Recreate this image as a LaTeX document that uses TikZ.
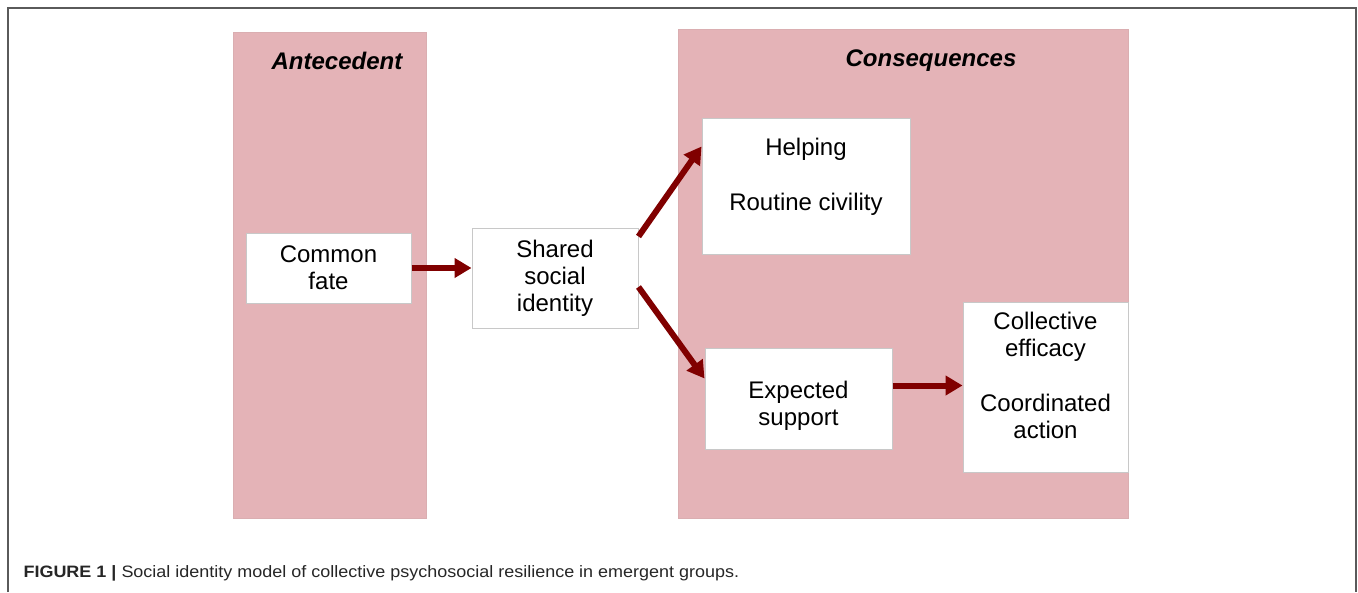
\documentclass[tikz,border=0pt]{standalone}
\usepackage{fontspec}
\setmainfont{Liberation Sans}
\usepackage{tikz}
\usetikzlibrary{arrows.meta,positioning}
\definecolor{pinkbg}{RGB}{228,179,183}
\definecolor{darkred}{RGB}{128,0,0}
\definecolor{boxgray}{RGB}{200,200,200}
\definecolor{framegray}{RGB}{90,90,90}

\begin{document}
\begin{tikzpicture}[x=1pt,y=-1pt,
    panel/.style={fill=pinkbg, draw=pinkbg!90!gray, line width=0.8pt, inner sep=0pt},
    box/.style={draw=boxgray, fill=white, line width=1pt, inner sep=0pt, align=center,
        font=\fontsize{24}{27}\selectfont},
    head/.style={font=\fontsize{24}{27}\selectfont\bfseries\itshape},
    flow/.style={darkred, line width=6pt, -{Triangle[length=17pt,width=19pt]}}]
\useasboundingbox (0,0) rectangle (1358,592);
\draw[framegray, line width=1.5pt] (8,592) -- (8,8) -- (1356,8) -- (1356,592);
\node[panel, minimum width=193, minimum height=486] (ante) at (329.5,275) {};
\node[panel, minimum width=450, minimum height=489] (cons) at (903,273.5) {};
\node[head] (antelabel) at (337,61) {Antecedent};
\node[head] (conslabel) at (931,61) {Consequences};
\node[box, minimum width=165, minimum height=70] (fate) at (328.5,268) {Common\\fate};
\node[box, minimum width=166, minimum height=100] (shared) at (555,278) {Shared\\social\\identity};
\node[box, minimum width=208, minimum height=136] (help) at (806,186)
    {Helping\\[28pt]Routine civility\\[-3pt]\mbox{}};
\node[box, minimum width=187, minimum height=101] (expect) at (798.5,398.5)
    {\mbox{}\\[4pt]Expected\\support};
\node[box, minimum width=165, minimum height=170] (collect) at (1045.5,387)
    {Collective\\efficacy\\[28pt]Coordinated\\action\\[-3pt]\mbox{}};
\draw[flow] (fate.east) -- (fate.east -| shared.west);
\draw[flow] ([yshift=-9pt]shared.north east) -- ([yshift=-29pt]help.north west);
\draw[flow] ([yshift=-9pt]shared.east) -- ([yshift=20pt]expect.west);
\draw[flow] ([yshift=13pt]expect.east) -- ([yshift=13pt]expect.east -| collect.west);
\node[anchor=west, text=black!85, font=\fontsize{16.5}{20}\selectfont] (caption) at (20,573)
    {\scalebox{1.09}[1]{\textbf{FIGURE 1 |} Social identity model of collective psychosocial resilience in emergent groups.}};
\end{tikzpicture}
\end{document}
